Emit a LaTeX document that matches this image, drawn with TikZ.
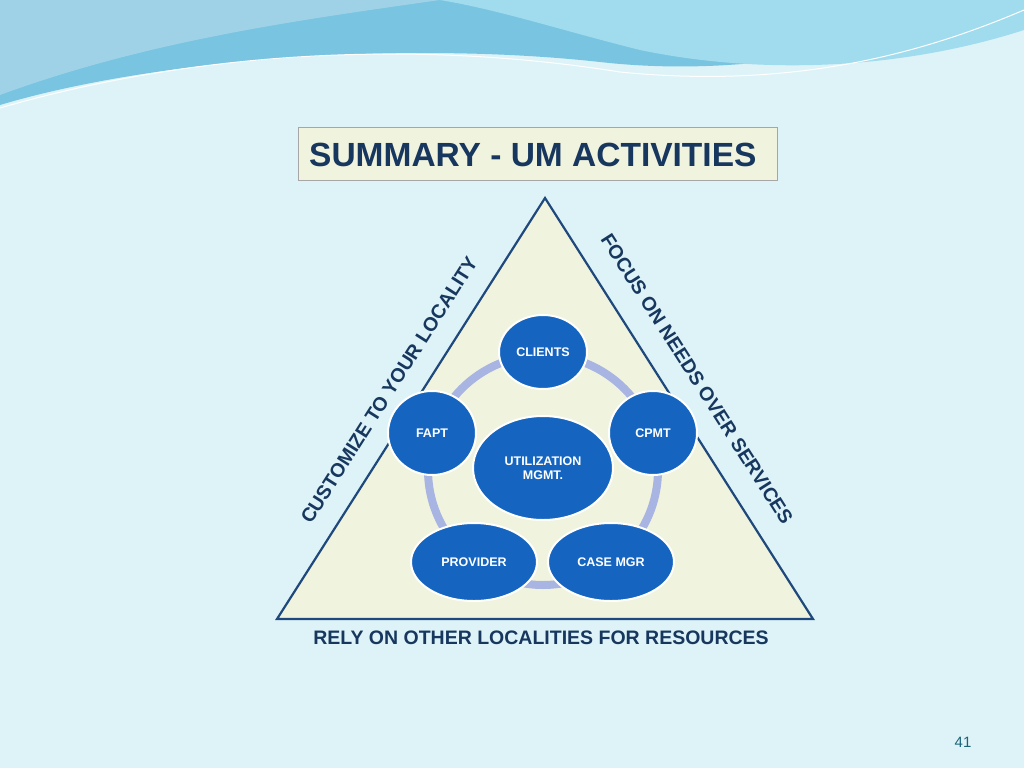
\documentclass[tikz,border=0pt]{standalone}
\usepackage{fontspec}
\setmainfont{Liberation Sans}
\usetikzlibrary{shapes.geometric}
\definecolor{bg}{RGB}{221,243,248}
\definecolor{navy}{RGB}{23,55,94}
\definecolor{tri}{RGB}{240,243,222}
\definecolor{triedge}{RGB}{31,73,125}
\definecolor{blob}{RGB}{21,101,192}
\definecolor{ring}{RGB}{168,180,226}
\definecolor{waveA}{RGB}{120,196,225}
\definecolor{waveB}{RGB}{160,220,238}
\definecolor{waveC}{RGB}{95,180,215}
\definecolor{pnum}{RGB}{30,100,120}
\tikzset{
 blobnode/.style={ellipse,fill=blob,draw=white,line width=2pt,text=white,font=\bfseries\fontsize{12.5}{14}\selectfont,align=center,inner sep=0pt},
 sidelabel/.style={text=navy,font=\bfseries\fontsize{19.5}{21}\selectfont}
}
\begin{document}
\begin{tikzpicture}[x=1pt,y=-1pt]
\useasboundingbox (0,0) rectangle (1024,768);
\fill[bg] (0,0) rectangle (1024,768);
% waves
\fill[waveA] (0,0) -- (1024,0) -- (1024,5) .. controls (900,40) and (760,80) .. (600,62) .. controls (400,40) and (150,60) .. (0,105) -- cycle;
\fill[waveB] (440,0) -- (1024,0) -- (1024,30) .. controls (900,70) and (760,75) .. (640,50) .. controls (560,30) and (500,10) .. (440,0) -- cycle;
\fill[waveC!60!white] (0,0) -- (440,0) .. controls (300,20) and (150,40) .. (0,95) -- cycle;
\draw[white,line width=1pt] (0,108) .. controls (200,50) and (420,40) .. (620,72) .. controls (800,90) and (930,50) .. (1024,10);
% title
\node[draw=gray!70,fill=tri,line width=0.8pt,minimum width=479pt,minimum height=53pt,anchor=north west,inner sep=0pt] (title) at (298,127) {};
\node[anchor=west,text=navy,font=\bfseries\fontsize{33.5}{36}\selectfont,inner sep=0pt] (titletext) at (309,155) {SUMMARY - UM ACTIVITIES};
% triangle
\coordinate (apex) at (545,198);
\coordinate (bl) at (277,619);
\coordinate (br) at (813,619);
\draw[fill=tri,draw=triedge,line width=2.2pt] (apex) -- (bl) -- (br) -- cycle;
% ring
\node[circle,draw=ring,line width=8pt,minimum size=230pt] (ringc) at (543,470) {};
% blobs
\node[blobnode,minimum width=140pt,minimum height=104pt] (um) at (543,468) {UTILIZATION\\MGMT.};
\node[blobnode,minimum width=88pt,minimum height=74pt] (clients) at (543,352) {CLIENTS};
\node[blobnode,minimum width=88pt,minimum height=84pt] (fapt) at (432,433) {FAPT};
\node[blobnode,minimum width=88pt,minimum height=84pt] (cpmt) at (653,433) {CPMT};
\node[blobnode,minimum width=126pt,minimum height=78pt] (prov) at (474,562) {PROVIDER};
\node[blobnode,minimum width=126pt,minimum height=78pt] (case) at (611,562) {CASE MGR};
% side labels
\node[sidelabel,rotate=57.5] (left) at (389,390) {CUSTOMIZE TO YOUR LOCALITY};
\node[sidelabel,rotate=-57.5] (right) at (697,379) {FOCUS ON NEEDS OVER SERVICES};
\node[sidelabel,font=\bfseries\fontsize{19.5}{21}\selectfont] (bottom) at (541,638) {RELY ON OTHER LOCALITIES FOR RESOURCES};
\node[text=pnum,font=\fontsize{15}{17}\selectfont] (pg) at (963,742) {41};
\end{tikzpicture}
\end{document}
